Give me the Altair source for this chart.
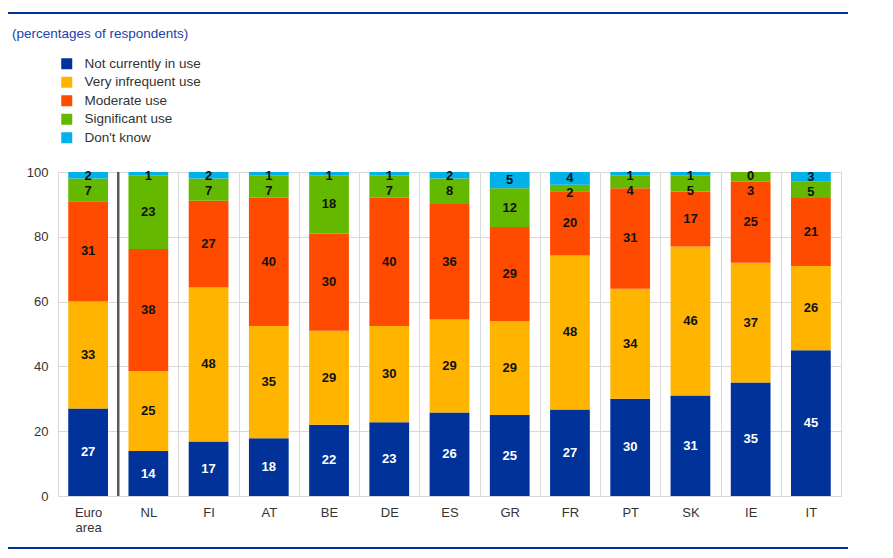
import altair as alt
import pandas as pd

countries = ["Euro area", "NL", "FI", "AT", "BE", "DE", "ES", "GR", "FR", "PT", "SK", "IE", "IT"]
categories = ["Not currently in use", "Very infrequent use", "Moderate use", "Significant use", "Don't know"]
not_in_use = [27, 14, 17, 18, 22, 23, 26, 25, 27, 30, 31, 35, 45]
very_infrequent = [33, 25, 48, 35, 29, 30, 29, 29, 48, 34, 46, 37, 26]
moderate = [31, 38, 27, 40, 30, 40, 36, 29, 20, 31, 17, 25, 21]
significant = [7, 23, 7, 7, 18, 7, 8, 12, 2, 4, 5, 3, 5]
dont_know = [2, 1, 2, 1, 1, 1, 2, 5, 4, 1, 1, 0, 3]
colors = ["#003299", "#FFB400", "#FF4B00", "#65B800", "#00B1EA"]
y_ticks = [0, 20, 40, 60, 80, 100]
subtitle = ["(percentages of respondents)"]
separator_before = ["NL"]

series = [not_in_use, very_infrequent, moderate, significant, dont_know]
rows = []
for k, (cat, vals) in enumerate(zip(categories, series)):
    for c, v in zip(countries, vals):
        rows.append({"country": c, "cat": cat, "value": v, "order": k})
df = pd.DataFrame(rows)

FONT = "Liberation Sans, Arial, sans-serif"
NARROW = "Liberation Sans Narrow, Arial Narrow, Liberation Sans, Arial, sans-serif"

xscale = alt.Scale(domain=countries, paddingInner=0, paddingOuter=0)
x_enc = alt.X(
    "country:N",
    sort=countries,
    scale=xscale,
    axis=alt.Axis(
        title=None, labelAngle=0, tickBand="extent", grid=True, gridColor="#d9d9d9",
        ticks=False, domain=False, labelPadding=10, labelFontSize=13, labelFont=NARROW,
        labelColor="#333333",
        labelExpr="datum.label == 'Euro area' ? ['Euro', 'area'] : datum.label",
    ),
)
yscale = alt.Scale(domain=[0, 100], nice=False)

base = (
    alt.Chart(df)
    .transform_stack(
        stack="value", groupby=["country"], as_=["s0", "s1"], offset="normalize",
        sort=[alt.SortField("order", order="ascending")],
    )
    .transform_calculate(y0="datum.s0*100", y1="datum.s1*100", ym="(datum.s0+datum.s1)*50")
)

bars = base.mark_bar(width=alt.RelativeBandSize(0.66)).encode(
    x=x_enc,
    y=alt.Y(
        "y0:Q", scale=yscale,
        axis=alt.Axis(
            values=y_ticks, title=None, ticks=False, domain=False, grid=True,
            gridColor="#d9d9d9", labelPadding=10, labelFontSize=13, labelFont=NARROW,
            labelColor="#333333",
        ),
    ),
    y2="y1:Q",
    color=alt.Color(
        "cat:N",
        scale=alt.Scale(domain=categories, range=colors),
        legend=alt.Legend(
            title=None, orient="none", legendX=2, legendY=-115, direction="vertical",
            symbolType="square", symbolSize=121, symbolStrokeWidth=0, symbolOpacity=1,
            labelFontSize=13.5, labelFont=FONT, labelColor="#333333", rowPadding=3.5,
            labelOffset=11, padding=0,
        ),
    ),
)

# keep the small top labels apart, as in the original
label_y = (
    "datum.order == 4 ? min(datum.ym, 98.8) : "
    "datum.order == 3 ? min(datum.ym, min((datum.s1*100+100)/2, 98.8) - 4.6) : datum.ym"
)

labels = base.transform_calculate(ly=label_y).mark_text(
    font=NARROW, fontWeight="bold", fontSize=13, baseline="middle", align="center"
).encode(
    x=x_enc,
    y=alt.Y("ly:Q", scale=yscale),
    text="value:Q",
    color=alt.condition("datum.order == 0", alt.value("white"), alt.value("#111111")),
)

sep = alt.Chart(pd.DataFrame({"country": separator_before})).mark_rule(
    color="#595959", strokeWidth=2.5
).encode(
    x=alt.X("country:N", sort=countries, scale=xscale, bandPosition=0),
    y=alt.datum(0, scale=yscale),
    y2=alt.datum(100),
)

deco = pd.DataFrame({"t": subtitle})
top_line = alt.Chart(deco).mark_rule(color="#003299", strokeWidth=2).encode(
    x=alt.value(-50), x2=alt.value(790), y=alt.value(-159)
)
bottom_line = alt.Chart(deco).mark_rule(color="#003299", strokeWidth=2).encode(
    x=alt.value(-50), x2=alt.value(790), y=alt.value(376)
)
sub = alt.Chart(deco).mark_text(
    font=FONT, fontSize=13.5, color="#2541a8", align="left", baseline="middle"
).encode(x=alt.value(-46), y=alt.value(-138), text="t:N")

chart = (
    alt.layer(bars, labels, sep, top_line, bottom_line, sub)
    .properties(
        width=783, height=324,
        padding={"left": 50, "top": 164, "right": 40, "bottom": 54},
        autosize=alt.AutoSizeParams(type="none"),
        background="white",
    )
    .configure_view(stroke="#d9d9d9")
)

chart.save("out.html", embed_options={"renderer": "svg", "actions": False})
